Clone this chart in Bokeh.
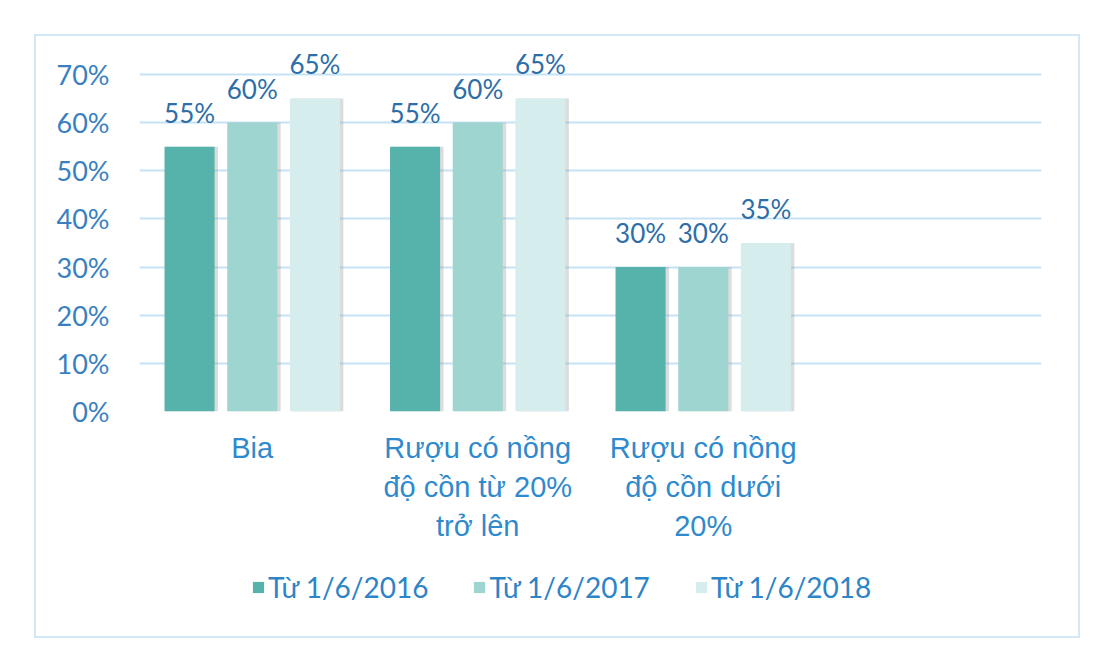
from bokeh.plotting import figure
from bokeh.layouts import column
from bokeh.models import FactorRange, Legend, LegendItem, ColumnDataSource, FixedTicker, NumeralTickFormatter
from bokeh.transform import dodge
from bokeh.core.properties import value
from bokeh.embed import file_html
from bokeh.resources import INLINE

categories = ["Bia", "Rượu có nồng\nđộ cồn từ 20%\ntrở lên", "Rượu có nồng\nđộ cồn dưới\n20%", " "]
series_names = ["Từ 1/6/2016", "Từ 1/6/2017", "Từ 1/6/2018"]
values_2016 = [0.55, 0.55, 0.30]
values_2017 = [0.60, 0.60, 0.30]
values_2018 = [0.65, 0.65, 0.35]
label_2016 = ["55%", "55%", "30%"]
label_2017 = ["60%", "60%", "30%"]
label_2018 = ["65%", "65%", "35%"]
y_ticks = [0, 0.1, 0.2, 0.3, 0.4, 0.5, 0.6, 0.7]

colors = ["#55b3ac", "#9fd5d0", "#d6eded"]
offsets = [-0.278, 0.0, 0.278]
bar_w = 0.222

src = ColumnDataSource(data=dict(
    cat=categories[:3],
    v0=values_2016, v1=values_2017, v2=values_2018,
    l0=label_2016, l1=label_2017, l2=label_2018,
))

p = figure(x_range=FactorRange(factors=categories, range_padding=0), y_range=(0, 0.76),
           width=1042, height=520, output_backend="svg", toolbar_location=None,
           min_border_left=103, min_border_right=37, min_border_top=9, min_border_bottom=145)
p.border_fill_color = "white"
p.background_fill_color = "white"
p.outline_line_color = None

# grid
p.xgrid.grid_line_color = None
p.ygrid.grid_line_color = "#c6e2f5"
p.ygrid.grid_line_width = 2
p.yaxis.ticker = FixedTicker(ticks=y_ticks)
p.yaxis.formatter = NumeralTickFormatter(format="0%")
for ax in (p.xaxis[0], p.yaxis[0]):
    ax.axis_line_color = None
    ax.major_tick_line_color = None
    ax.minor_tick_line_color = None
    ax.major_tick_out = 0
    ax.major_tick_in = 0
p.yaxis.major_label_standoff = 30
p.yaxis.major_label_text_font = "Lato"
p.yaxis.major_label_text_font_size = "27px"
p.yaxis.major_label_text_color = "#3a7fbf"
p.xaxis.major_label_standoff = 20
p.xaxis.major_label_text_font = "Liberation Sans"
p.xaxis.major_label_text_font_size = "29px"
p.xaxis.major_label_text_color = "#2f8acd"
p.xaxis.major_label_text_line_height = 1.22

for i, key in enumerate(["v0", "v1", "v2"]):
    # soft shadow
    p.vbar(x=dodge("cat", offsets[i] + 0.012, range=p.x_range), top=key, width=bar_w + 0.006,
           source=src, fill_color="#9a9a9a", fill_alpha=0.35, line_color=None)
    p.vbar(x=dodge("cat", offsets[i], range=p.x_range), top=key, width=bar_w,
           source=src, fill_color=colors[i], line_color=None)
    p.text(x=dodge("cat", offsets[i], range=p.x_range), y=key, text="l%d" % i, source=src,
           text_align="center", text_baseline="alphabetic", y_offset=-34,
           text_font=value("Lato"), text_font_size="26px", text_color="#2d6ea8")

# legend strip (its frame is aligned with the chart frame by the column layout)
p2 = figure(width=1042, height=80, output_backend="svg", toolbar_location=None,
            x_range=(0, 1), y_range=(0, 1), min_border=0,
            x_axis_location=None, y_axis_location=None)
p2.grid.visible = False
p2.outline_line_color = None
p2.border_fill_color = "white"
# swatch renderers kept outside the visible range; they only feed the legend
leg_src = ColumnDataSource(data=dict(x=[-10], top=[-10]))
leg_renderers = [p2.vbar(x="x", top="top", width=0.1, source=leg_src, fill_color=colors[i], line_color=None)
                 for i in range(3)]
legend = Legend(items=[LegendItem(label=series_names[i], renderers=[leg_renderers[i]]) for i in range(3)],
                orientation="horizontal", location=(112, 32),
                border_line_color=None, background_fill_alpha=0,
                padding=0, margin=0, spacing=44, label_standoff=3,
                glyph_width=14, glyph_height=14,
                label_text_font="Lato", label_text_font_size="28px", label_text_color="#2d84c6")
p2.add_layout(legend, "center")

layout = column(p, p2, spacing=0)
layout.margin = (34, 0, 0, 34)
layout.styles = {"border": "2px solid #d3e8f6", "background-color": "white"}

open("out.html", "w").write(file_html(layout, INLINE))
